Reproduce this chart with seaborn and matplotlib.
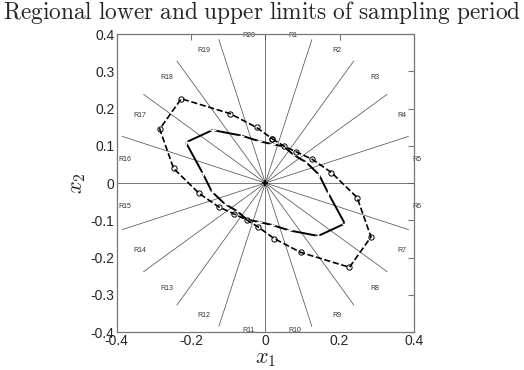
import numpy as np
import pandas as pd
import matplotlib
matplotlib.use("Agg")
import matplotlib.pyplot as plt
import seaborn as sns

sns.set_style("white")
plt.rcParams['font.family'] = ['Liberation Sans', 'DejaVu Sans']
plt.rcParams['mathtext.fontset'] = 'cm'

# regions R1..R20, centre angle of each region (deg)
regions = ["R%d" % k for k in range(1, 21)]
centre_deg = [81, 63, 45, 27, 9, -9, -27, -45, -63, -81,
              -99, -117, -135, -153, -171, 171, 153, 135, 117, 99]
# boundary rays between regions (deg)
ray_deg = [0, 18, 36, 54, 72, 90, 108, 126, 144, 162,
           180, 198, 216, 234, 252, 270, 288, 306, 324, 342]

# radius of the lower (solid) and upper (dashed) limit in each region
lower_r = [0.106, 0.110, 0.107, 0.123, 0.146, 0.171, 0.240, 0.201, 0.143, 0.114,
           0.106, 0.110, 0.107, 0.123, 0.146, 0.171, 0.240, 0.201, 0.143, 0.114]
upper_r = [0.120, 0.111, 0.118, 0.141, 0.180, 0.250, 0.319, 0.320, 0.209, 0.151,
           0.120, 0.111, 0.118, 0.141, 0.180, 0.250, 0.319, 0.320, 0.209, 0.151]


def polygon(radii):
    th = np.deg2rad(centre_deg + centre_deg[:1])
    r = np.array(radii + radii[:1])
    return pd.DataFrame({"x1": r * np.cos(th), "x2": r * np.sin(th)})


fig = plt.figure(figsize=(5.24, 3.70), dpi=100)
ax = fig.add_axes([0.2227, 0.1027, 0.5674, 0.8054])

# region rays
for a in ray_deg:
    t = np.deg2rad(a)
    ax.plot([0, 0.405 * np.cos(t)], [0, 0.405 * np.sin(t)], color="#555555", lw=0.55, zorder=1)

# region labels
for name, a in zip(regions, centre_deg):
    t = np.deg2rad(a)
    ax.text(0.4 * np.cos(t), 0.4 * np.sin(t), name, fontsize=5, ha="left", va="center",
            color="#333333", zorder=2)

low = polygon(lower_r)
up = polygon(upper_r)
sns.lineplot(data=low, x="x1", y="x2", sort=False, estimator=None, ax=ax, color="black",
             lw=1.4, marker="+", markersize=4, mew=1.0, zorder=3)
sns.lineplot(data=up, x="x1", y="x2", sort=False, estimator=None, ax=ax, color="black",
             lw=1.2, linestyle="--", dashes=(5, 2.5), marker="o", markersize=3.8,
             mfc="none", mec="black", mew=0.7, zorder=3)
ax.plot([0], [0], marker="+", color="black", markersize=5, mew=1.2, zorder=4)

ax.set_xlim(-0.4, 0.4)
ax.set_ylim(-0.4, 0.4)
ax.set_xticks([-0.4, -0.2, 0, 0.2, 0.4])
ax.set_xticklabels(["-0.4", "-0.2", "0", "0.2", "0.4"])
ax.set_yticks(np.round(np.arange(-0.4, 0.41, 0.1), 1))
ax.set_yticklabels(["-0.4", "-0.3", "-0.2", "-0.1", "0", "0.1", "0.2", "0.3", "0.4"])
ax.tick_params(direction="in", length=4, width=0.8, color="#777777", labelsize=10,
               top=True, right=True, pad=1.5)
for s in ax.spines.values():
    s.set_color("#777777")
    s.set_linewidth(0.9)

ax.set_xlabel(r"$x_1$", fontsize=16, labelpad=0)
ax.set_ylabel(r"$x_2$", fontsize=16, labelpad=2)
fig.text(0.5, 0.965, r"$\mathrm{Regional\ lower\ and\ upper\ limits\ of\ sampling\ period}$",
         ha="center", va="center", fontsize=16.8)

fig.savefig("out.png", dpi=100)
